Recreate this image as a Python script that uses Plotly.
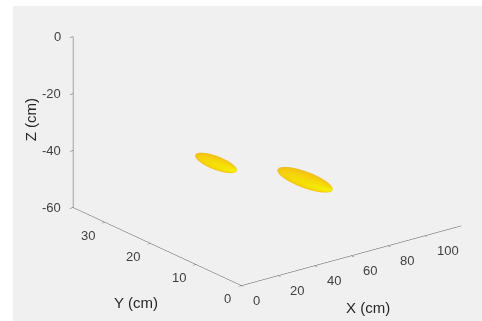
import numpy as np
import plotly.graph_objects as go

# axis data
x_ticks = [0, 20, 40, 60, 80, 100]
y_ticks = [0, 10, 20, 30]
z_ticks = [-60, -40, -20, 0]
x_range = [0, 120]
y_range = [0, 37]
z_range = [-60, 0]
x_title = 'X (cm)'
y_title = 'Y (cm)'
z_title = 'Z (cm)'

# blob (isosurface) data
blob_x = [35.8, 64.5]
blob_y = [20, 12]
blob_z = [-38, -43]
blob_len = [4.3, 5.7]
blob_wid = [3.6, 4.6]
blob_hgt = [2.0, 2.3]

eye_dir = np.array([-0.568, -0.742, 0.355])
eye_dir = eye_dir / np.linalg.norm(eye_dir)
eye_dist = 1.05
zoom = 2.12 * 260.0 / 321.0 * 1.005
aspect = dict(x=1 * zoom, y=1 * zoom, z=0.66 * zoom)

# view shift (camera center) so that the box sits where it does in the reference
r_vec = np.array([-eye_dir[1], eye_dir[0], 0.0]); r_vec /= np.linalg.norm(r_vec)
u_vec = np.cross(r_vec, -eye_dir)
ppu = 162.0
cam_center = -(26.5 / ppu) * r_vec - (29.5 / ppu) * u_vec
cam_eye = cam_center + eye_dir * eye_dist

FONT = 'Liberation Sans, Arial, Helvetica'
TICK_FONT = dict(family=FONT, size=13, color='#404040')
TITLE_FONT = dict(family=FONT, size=15, color='#262626')

scale = np.array([aspect['x'] / (x_range[1] - x_range[0]),
                  aspect['y'] / (y_range[1] - y_range[0]),
                  aspect['z'] / (z_range[1] - z_range[0])])

e1 = np.array([1.0, -1.36, 0.0]); e1 /= np.linalg.norm(e1)
e3 = np.array([0.0, 0.0, 1.0])
e2 = np.cross(e3, e1)

light = eye_dir + 0.15 * r_vec - 0.08 * u_vec
light /= np.linalg.norm(light)

fig = go.Figure()
u = np.linspace(0, 2 * np.pi, 72)
v = np.linspace(0, np.pi, 36)
U, V = np.meshgrid(u, v)
for cx, cy, cz, L, W, H in zip(blob_x, blob_y, blob_z, blob_len, blob_wid, blob_hgt):
    a = np.cos(U) * np.sin(V)
    b = np.sin(U) * np.sin(V)
    c = np.cos(V)
    P = (np.array([cx, cy, cz])[:, None, None]
         + L * a[None] * e1[:, None, None]
         + W * b[None] * e2[:, None, None]
         + H * c[None] * e3[:, None, None])
    N = (a / L)[None] * e1[:, None, None] + (b / W)[None] * e2[:, None, None] + (c / H)[None] * e3[:, None, None]
    Ns = N / scale[:, None, None]
    Ns /= np.linalg.norm(Ns, axis=0, keepdims=True)
    shade = np.clip(np.tensordot(light, Ns, axes=1), 0, 1) ** 0.8
    fig.add_trace(go.Surface(
        x=P[0], y=P[1], z=P[2], surfacecolor=shade,
        cmin=0, cmax=1, showscale=False,
        colorscale=[[0, '#dcb848'], [0.2, '#f2bc18'], [0.5, '#f5d20a'],
                    [0.8, '#f4e804'], [1, '#f6f400']],
        lighting=dict(ambient=1, diffuse=0, specular=0, roughness=1, fresnel=0),
        hoverinfo='skip'))

axis_common = dict(showgrid=False, showbackground=False, zeroline=False,
                   showline=True, linecolor='#555555', linewidth=1,
                   ticks='outside', tickcolor='#555555', ticklen=4,
                   showspikes=False, showticklabels=False, title_text='')

annotations = []
for t in x_ticks:
    annotations.append(dict(x=t, y=y_range[0], z=z_range[0], text=str(t), showarrow=False,
                            xanchor='left', yanchor='middle', xshift=10, yshift=-15, font=TICK_FONT))
for t in y_ticks:
    annotations.append(dict(x=x_range[0], y=t, z=z_range[0], text=str(t), showarrow=False,
                            xanchor='right', yanchor='middle', xshift=-8, yshift=-13, font=TICK_FONT))
for t in z_ticks:
    annotations.append(dict(x=x_range[0], y=y_range[1], z=t, text=str(t), showarrow=False,
                            xanchor='right', yanchor='middle', xshift=-10, yshift=0, font=TICK_FONT))
annotations.append(dict(x=60, y=y_range[0], z=z_range[0], text=x_title, showarrow=False,
                        xanchor='center', yanchor='middle', xshift=17, yshift=-52, font=TITLE_FONT))
annotations.append(dict(x=x_range[0], y=18.5, z=z_range[0], text=y_title, showarrow=False,
                        xanchor='center', yanchor='middle', xshift=-21, yshift=-56, font=TITLE_FONT))
annotations.append(dict(x=x_range[0], y=y_range[1], z=-30, text=z_title, showarrow=False, textangle=-90,
                        xanchor='center', yanchor='middle', xshift=-43, yshift=2, font=TITLE_FONT))

fig.update_layout(
    width=482, height=321,
    margin=dict(l=0, r=0, t=0, b=0),
    paper_bgcolor='white',
    showlegend=False,
    shapes=[dict(type='rect', xref='paper', yref='paper', x0=13 / 482, x1=1.0,
                 y0=0.0, y1=1 - 6 / 321, fillcolor='#f0f0f0', line_width=0, layer='below')],
    scene=dict(
        domain=dict(x=[0.0, 1.0], y=[0.0, 1.0]),
        xaxis=dict(axis_common, range=x_range, tickvals=x_ticks),
        yaxis=dict(axis_common, range=y_range, tickvals=y_ticks),
        zaxis=dict(axis_common, range=z_range, tickvals=z_ticks),
        aspectmode='manual', aspectratio=aspect,
        camera=dict(projection=dict(type='orthographic'),
                    eye=dict(x=cam_eye[0], y=cam_eye[1], z=cam_eye[2]),
                    up=dict(x=0, y=0, z=1),
                    center=dict(x=cam_center[0], y=cam_center[1], z=cam_center[2])),
        bgcolor='rgba(0,0,0,0)',
        annotations=annotations,
    ),
)
fig.write_html('out.html', post_script="document.body.style.margin='0';",
               config={'displayModeBar': False})
